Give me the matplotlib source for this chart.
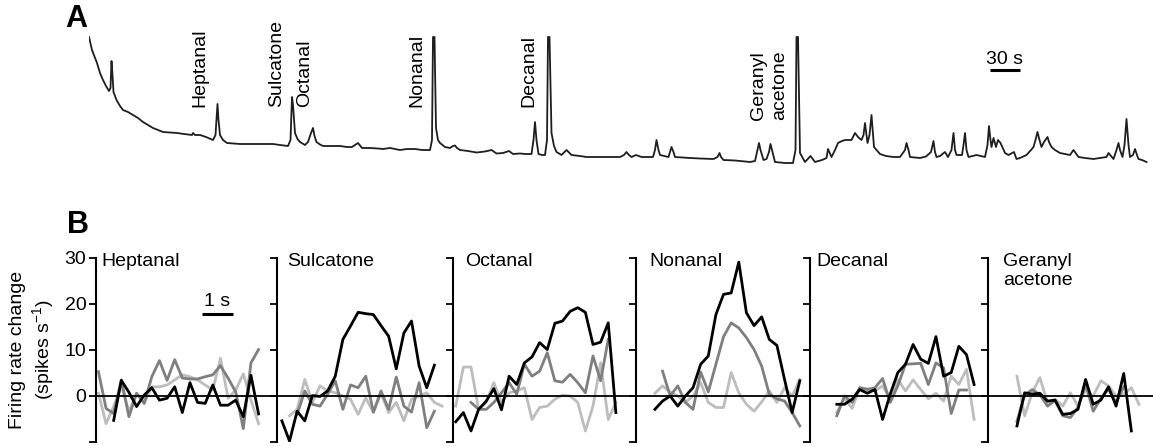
import numpy as np
import matplotlib.pyplot as plt

plt.rcParams['font.family'] = ['Liberation Sans', 'DejaVu Sans']
plt.rcParams['mathtext.fontset'] = 'custom'
plt.rcParams['mathtext.rm'] = 'Liberation Sans'
plt.rcParams['mathtext.it'] = 'Liberation Sans:italic'

nan = np.nan

# ---- panel A: GC trace (time in s, signal in arbitrary units) ----
trace_t = [0, 3, 8, 11, 14, 17, 20, 21.5, 22.5, 23.5, 24.5, 27.5, 31, 34, 39, 44, 49, 54, 59, 64,
           69, 74, 81, 88, 95, 103, 104, 106, 111, 117, 124, 126.5, 128.5, 129.5, 131, 134, 138,
           144, 151, 161, 171, 184, 191, 199, 201.5, 203, 204, 206, 208.5, 211, 216, 219, 222,
           224, 225.5, 227.5, 231, 234, 248, 251, 258, 263, 269, 273, 281, 289, 294, 301, 311,
           318, 326, 333, 341, 343, 344, 345.5, 347, 349, 351, 356, 361, 364, 366, 368, 371, 379,
           387.5, 396, 402.5, 407.5, 414, 420, 424, 431, 436, 442.5, 444.5, 446, 447.5, 449.5,
           453, 456, 458, 459, 460.5, 462.5, 465, 467.5, 472.5, 477.5, 482.5, 491, 497.5, 511,
           524, 531, 535, 537.5, 540, 542.5, 547, 552.5, 564, 566, 567.5, 569.5, 571, 579.5, 581,
           582.5, 584.5, 586, 601, 611, 624.5, 628.5, 630.5, 632, 634.5, 646, 661, 666, 668.5,
           670, 671.5, 674.5, 677.5, 680, 681.5, 683.5, 686, 696, 704, 706.5, 707.5, 709, 711,
           716, 721.5, 726, 733, 737.5, 739, 742.5, 746, 749, 753, 756, 762.5, 766, 769, 772.5,
           774.5, 776, 777.5, 778.5, 780.5, 782.5, 784, 785, 791, 797, 804.5, 811, 816, 817.5,
           819.5, 821, 831, 837, 842, 844.5, 846, 847.5, 851, 856, 859, 862.5, 864.5, 866, 867.5,
           873, 874.5, 876, 877.5, 879.5, 887.5, 896, 898.5, 900, 901.5, 902.5, 904.5, 907, 909,
           911.5, 916, 919.5, 925, 927.5, 931, 937.5, 942, 944.5, 946.5, 948.5, 950.5, 952.5,
           955, 958.5, 960, 962.5, 966, 971, 981, 984.5, 989.5, 996, 1004.5, 1011, 1017.5,
           1019.5, 1024.5, 1027.5, 1029.5, 1031, 1033.5, 1035.5, 1037.5, 1039.5, 1041, 1044,
           1046, 1048, 1049.5, 1053, 1057.5]
trace_v = [133, 120, 107, 97, 90, 84, 79, 82, 109, 95, 78, 70, 64, 60, 58, 55, 52, 48, 45, 42,
           40, 38, 37.5, 37, 36, 35, 37, 35, 35, 33, 30, 35, 66, 50, 35, 30, 27,
           26.5, 26, 26, 26, 26, 25, 24, 30, 73, 65, 37, 31, 28, 25, 28, 37,
           42, 34, 28, 25.5, 24, 24, 24, 23, 23, 27, 22, 22, 21.5, 21, 22, 20,
           21, 21, 20, 20, 30, 133, 133, 42, 30, 27, 23, 22, 24, 24.5, 22, 20, 19,
           17.5, 18.5, 20, 16.5, 17, 19, 16, 16.5, 16, 16, 30, 48, 30, 16,
           15, 15, 30, 133, 133, 37, 24, 18, 15, 20, 15, 14, 13, 13,
           13, 13, 15, 18, 15, 13, 15, 13, 13, 20, 30, 20, 15, 13, 18,
           23, 18, 13, 12, 11.5, 11, 13, 17, 13, 10, 9.5, 8, 9, 20,
           27, 20, 10, 11, 18, 26, 18, 8, 7, 7, 20, 133, 133, 17,
           8, 14, 8, 10, 12, 21, 13, 20, 27, 29, 30, 30, 37, 33, 30,
           35, 47, 35, 27, 35, 55, 35, 23, 16, 14, 13, 13, 20, 27,
           20, 13, 12, 13.5, 18, 29, 18, 13, 14, 18, 13, 20, 37, 20, 15,
           15, 25, 37, 20, 13, 15, 13, 25, 44, 30, 23, 32, 23, 30,
           27, 17, 15, 18, 11, 12, 15, 20, 23, 30, 38, 30, 23,
           28, 33, 28, 23, 20, 17, 15, 20, 13, 12, 11, 12, 13,
           17, 11, 20, 27, 20, 13, 25, 51, 25, 13, 15,
           21, 15, 11, 10, 8]

peak_names = ['Heptanal', 'Sulcatone', 'Octanal', 'Nonanal', 'Decanal', 'Geranyl\nacetone']
peak_label_t = [111, 188, 216, 328, 440, 680]
peak_label_v = [63, 63, 63, 63, 63, 50]

# ---- panel B: firing rate change (spikes/s), 0.25 s bins ----
odors = ['Heptanal', 'Sulcatone', 'Octanal', 'Nonanal', 'Decanal', 'Geranyl\nacetone']
onset = [0.08, 0.16, 0.09, 0.62, 0.88, 0.95]
bin_s = 0.25

hept_black = [nan, nan, -5.3, 3.4, 0.8, -2.3, 0.2, 1.8, -0.9, -0.5, 2.0, -3.6, 2.9, -1.4, -1.6,
              2.4, -2.0, -2.0, -0.9, -4.5, 4.5, -3.9]
hept_dark = [5.3, -2.7, -3.8, 3.5, -4.5, 0.6, -1.6, 4.2, 7.7, 3.4, 7.9, 3.9, 3.7, 3.7, 4.2, 4.6,
             6.6, 3.9, 0.9, -7.1, 7.2, 10.1]
hept_light = [0.6, -6.0, -2.3, 2.4, -3.4, 0.6, -1.6, 2.0, 2.0, 2.4, 3.5, 4.6, 4.2, 3.5, 2.4, 1.3,
              8.2, -0.5, 1.3, 4.8, -0.9, -6.0]

sulc_black = [-5.4, -9.8, -3.3, -5.4, 0.1, -0.1, 1.1, 4.3, 12.3, 15.2, 18.2, 17.9, 17.7, 15.3,
              13.0, 5.9, 13.7, 16.3, 6.5, 1.8, 6.7, nan]
sulc_dark = [nan, nan, -4.0, 1.1, -1.8, -2.2, 0.4, 3.3, -2.9, 2.4, 1.8, 4.3, -3.5, 1.1, -2.9,
             4.1, -2.2, -3.5, 2.9, -6.9, -3.3, nan]
sulc_light = [nan, -4.3, -2.9, 3.6, -1.4, 2.2, 1.1, 0.7, 0.0, -0.7, -4.0, -0.4, -3.6, 0.6, -3.6,
              -1.4, -5.4, -0.7, 0.0, 0.7, -1.4, -2.2]

octa_black = [-5.6, -3.6, -7.6, -2.9, -1.1, 1.6, -3.0, 4.3, 2.5, 7.2, 8.5, 11.6, 10.1, 15.8,
              16.3, 18.4, 19.2, 18.2, 11.2, 11.7, 15.9, -3.6]
octa_dark = [nan, nan, -1.4, -2.9, -2.9, -1.4, 0.7, 2.9, 0.4, 6.9, 4.3, 5.4, 9.4, 3.3, 3.0, 4.7,
             2.9, 0.7, 8.7, 3.3, 12.3, nan]
octa_light = [-2.2, 6.3, 6.3, -2.9, -1.4, 2.9, -1.4, 0.7, 1.1, 1.8, -5.1, -2.5, -2.2, -0.7, 0.2,
              0.0, -1.4, -7.6, -2.2, 7.2, -5.1, -1.4]

nona_black = [-2.9, -1.1, 0.0, -2.2, 0.0, 1.8, 6.9, 8.7, 17.7, 22.1, 22.4, 29.1, 18.1, 15.3,
              17.2, 12.3, 11.0, 3.6, -3.6, 3.3]
nona_dark = [nan, 5.4, 0.0, 2.2, -1.4, -2.9, 5.2, 0.9, 6.9, 12.9, 15.9, 14.8, 12.7, 10.1, 6.5,
             0.4, -0.6, -1.1, -3.6, -6.5]
nona_light = [0.6, 2.2, 0.9, 0.0, -1.4, 0.0, 2.9, -1.4, -2.5, -2.5, 5.1, 0.7, -1.8, -3.3, -1.3,
              1.1, -1.4, 1.8, 0.0, 3.6]

deca_black = [-1.8, -1.8, -0.7, 1.4, 0.6, 1.4, -5.1, 0.4, 5.1, 6.9, 11.2, 8.0, 7.1, 12.9, 4.3,
              5.1, 10.8, 9.0, 2.5]
deca_dark = [-4.3, 0.0, -1.4, 1.8, 1.4, 1.8, 3.8, -1.4, 2.2, 6.9, 7.0, 7.1, 2.5, 7.2, 6.1, -3.8,
             1.3, 1.3, nan]
deca_light = [-3.6, -0.4, -2.7, 1.8, 1.6, 1.1, 2.2, -0.7, 3.6, 1.1, 3.5, 1.4, -0.6, 0.6, -1.1,
              4.3, 2.5, 5.8, -5.1]

gera_black = [-6.5, 0.7, 0.4, 0.6, -1.1, -0.9, -4.0, -3.8, -2.9, 3.6, -1.8, -0.9, 2.0, -2.2, 4.9,
              -7.6, nan]
gera_dark = [-5.5, 0.2, 1.4, 0.3, -2.2, -1.0, -4.3, -4.7, -2.5, 2.5, -3.3, -0.5, 1.5, -1.5, 2.0,
             nan, nan]
gera_light = [4.3, -4.3, 0.7, 4.0, -1.4, -0.7, -2.2, 0.7, -2.2, 1.4, 0.0, 3.3, 2.2, 0.0, 0.4,
              1.8, -1.8]

black_traces = [hept_black, sulc_black, octa_black, nona_black, deca_black, gera_black]
dark_traces = [hept_dark, sulc_dark, octa_dark, nona_dark, deca_dark, gera_dark]
light_traces = [hept_light, sulc_light, octa_light, nona_light, deca_light, gera_light]

# ---- layout (pixels) ----
W, H = 1153, 446
fig = plt.figure(figsize=(W / 100, H / 100), dpi=100)


def px_axes(x0, y0, x1, y1):
    return fig.add_axes([x0 / W, 1 - y1 / H, (x1 - x0) / W, (y1 - y0) / H])


axA = px_axes(89, 0, 1153, 180)
axA.plot(trace_t, trace_v, color='#1e1e1e', lw=1.3)
axA.set_xlim(0, 1064)
axA.set_ylim(-10, 170)
axA.axis('off')
for name, t, v in zip(peak_names, peak_label_t, peak_label_v):
    axA.text(t, v, name, rotation=90, ha='center', va='bottom', fontsize=14,
             multialignment='left', linespacing=1.3)
axA.plot([901, 931], [100, 100], color='k', lw=2.2, solid_capstyle='butt')
axA.text(916, 101.5, '30 s', ha='center', va='bottom', fontsize=14)

fig.text(65 / W, 1 - 4 / H, 'A', fontsize=22, fontweight='bold', ha='left', va='top')
fig.text(67 / W, 1 - 210 / H, 'B', fontsize=22, fontweight='bold', ha='left', va='top')

lefts = [96, 277, 453, 636, 810, 988]
rights = lefts[1:] + [1153]
name_dx = [5.7, 10, 12, 13, 6.7, 15]
PXS = 30.5  # pixels per second

for i in range(6):
    ax = px_axes(lefts[i], 258, rights[i], 442)
    ax.set_xlim(0, (rights[i] - lefts[i]) / PXS)
    ax.set_ylim(-10, 30)
    t = onset[i] + bin_s * np.arange(len(black_traces[i]))
    ax.plot(t, light_traces[i], color='#bdbdbd', lw=2.0, zorder=2)
    ax.plot(t, dark_traces[i], color='#7f7f7f', lw=2.0, zorder=3)
    ax.axhline(0, color='k', lw=1.3, zorder=4)
    ax.plot(t, black_traces[i], color='k', lw=2.0, zorder=5)

    for s in ['top', 'right', 'bottom']:
        ax.spines[s].set_visible(False)
    ax.spines['left'].set_linewidth(1.5)
    ax.set_xticks([])
    ax.set_yticks([-10, 0, 10, 20, 30])
    ax.tick_params(axis='y', direction='out', length=5, width=1.3, labelsize=14, pad=2)
    if i == 0:
        ax.set_yticklabels(['', '0', '10', '20', '30'])
        ax.set_ylabel('Firing rate change\n(spikes s$^{\u22121}$)', fontsize=14, linespacing=1.2)
        ax.yaxis.set_label_coords(-0.22, 0.5)
        ax.plot([3.48, 4.48], [17.8, 17.8], color='k', lw=2.2, solid_capstyle='butt')
        ax.text(3.98, 18.6, '1 s', ha='center', va='bottom', fontsize=14)
    else:
        ax.set_yticklabels([])
    ax.text(name_dx[i] / PXS, 31, odors[i], ha='left', va='top', fontsize=14, linespacing=1.1)

fig.savefig('out.png', dpi=100)
